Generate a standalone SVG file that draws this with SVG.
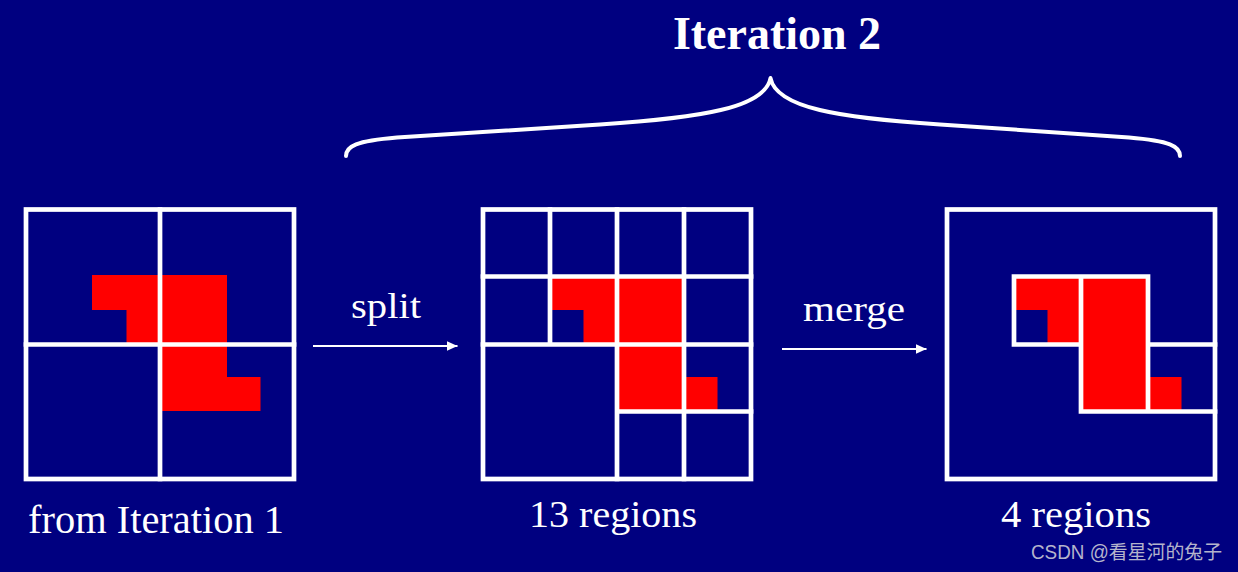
<svg xmlns="http://www.w3.org/2000/svg" width="1238" height="572" viewBox="0 0 1238 572">
  <defs>
    <style>
      .grid { fill: none; stroke: #FFFFFF; stroke-width: 4.7; stroke-linecap: square; }
      .red { fill: #FF0000; stroke: none; }
      .lbl { font-family: "Liberation Serif", "Times New Roman", serif; fill: #FFFFFF; text-anchor: middle; }
      .conn { stroke: #FFFFFF; stroke-width: 2.2; fill: none; }
      .brace { stroke: #FFFFFF; stroke-width: 4; fill: none; stroke-linecap: round; stroke-linejoin: round; }
    </style>
    <marker id="head" viewBox="0 0 11 10" refX="11" refY="5" markerWidth="11" markerHeight="10" markerUnits="userSpaceOnUse" orient="auto">
      <path d="M0,0 L11,5 L0,10 Z" fill="#FFFFFF"/>
    </marker>
  </defs>
  <rect x="0" y="0" width="1238" height="572" fill="#000080"/>

  <text class="lbl" x="777" y="49" font-size="46" font-weight="bold">Iteration 2</text>

  <g id="brace">
    <path class="brace" d="M346,156 C346,146 356,141 397,137.5 L600,124.5 C700,118 765,108 770.5,78 C776,108 840,118 940,124.5 L1129,137.5 C1170,141 1180,146 1180,156"/>
  </g>

  <g id="panel-iteration1">
    <polygon class="red" points="92,275 227,275 227,377 260.5,377 260.5,411 160,411 160,343.5 126.5,343.5 126.5,310 92,310"/>
    <rect class="grid" x="26" y="209.5" width="268" height="269.5"/>
    <path class="grid" d="M160,209.5 V479 M26,344.5 H294"/>
    <text class="lbl" x="156" y="533" font-size="39" textLength="256" lengthAdjust="spacingAndGlyphs">from Iteration 1</text>
  </g>

  <g id="panel-split">
    <polygon class="red" points="550,276.5 684,276.5 684,377 717.5,377 717.5,411 617,411 617,344 583.5,344 583.5,310 550,310"/>
    <rect class="grid" x="483" y="209.5" width="268" height="269.5"/>
    <path class="grid" d="M550,209.5 V344.5 M617,209.5 V479 M684,209.5 V479 M483,276.5 H751 M483,344.5 H751 M617,411.5 H751"/>
    <text class="lbl" x="613" y="527" font-size="38" textLength="168" lengthAdjust="spacingAndGlyphs">13 regions</text>
  </g>

  <g id="panel-merge">
    <polygon class="red" points="1014,276.5 1148,276.5 1148,377 1181.5,377 1181.5,411 1081,411 1081,344 1047.5,344 1047.5,310 1014,310"/>
    <rect class="grid" x="947" y="209.5" width="268" height="269.5"/>
    <path class="grid" d="M1014,344.5 V276.5 H1148 V411.5 M1014,344.5 H1081 M1081,276.5 V411.5 H1215 M1148,344.5 H1215"/>
    <text class="lbl" x="1076" y="527" font-size="38" textLength="150" lengthAdjust="spacingAndGlyphs">4 regions</text>
  </g>

  <g id="connectors">
    <line class="conn" x1="313" y1="346" x2="457.5" y2="346" marker-end="url(#head)"/>
    <text class="lbl" x="386" y="318" font-size="36" textLength="70" lengthAdjust="spacingAndGlyphs">split</text>
    <line class="conn" x1="782" y1="349" x2="926.5" y2="349" marker-end="url(#head)"/>
    <text class="lbl" x="854" y="321" font-size="36" textLength="102" lengthAdjust="spacingAndGlyphs">merge</text>
  </g>

  <text x="1031" y="559" font-family="'Liberation Sans', 'Noto Sans CJK SC', sans-serif" font-size="19.5" fill="#B4B4CC" textLength="191" lengthAdjust="spacingAndGlyphs">CSDN @看星河的兔子</text>
</svg>
